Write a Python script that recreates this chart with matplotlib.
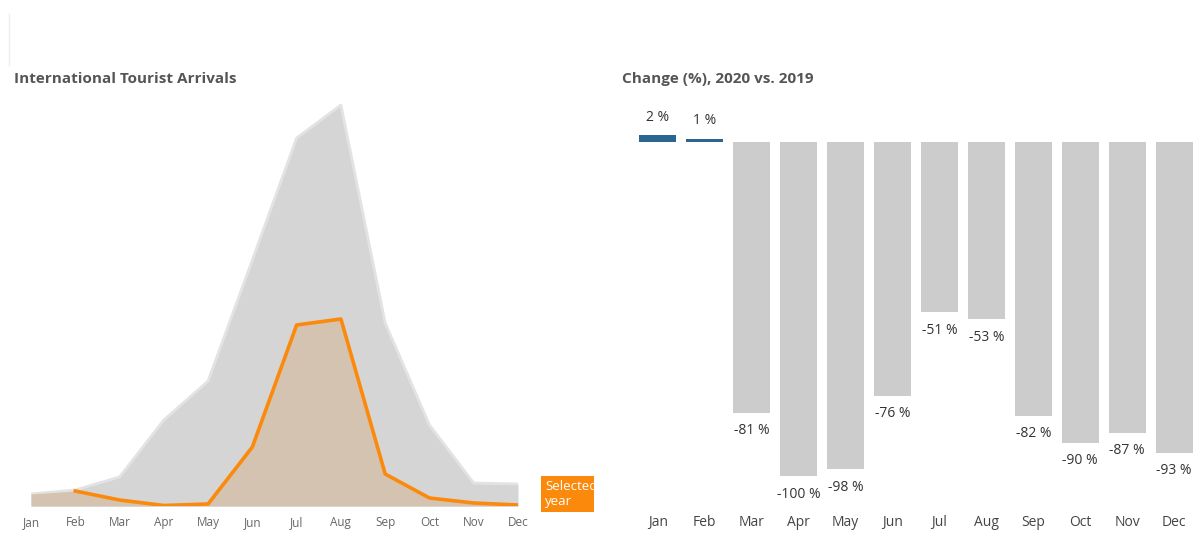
import numpy as np
import matplotlib.pyplot as plt
from matplotlib.patches import Rectangle

plt.rcParams['font.family'] = ['Open Sans', 'DejaVu Sans']

months = ["Jan", "Feb", "Mar", "Apr", "May", "Jun",
          "Jul", "Aug", "Sep", "Oct", "Nov", "Dec"]
arrivals_2019 = [12, 16, 29, 86, 125, 246, 368, 401, 183, 81, 23, 22]
arrivals_2020 = [12, 15, 6, 0.5, 2, 59, 181, 187, 32, 8, 3, 1]
change_pct = [2, 1, -81, -100, -98, -76, -51, -53, -82, -90, -87, -93]

W, H = 1197, 541
fig = plt.figure(figsize=(W / 100, H / 100), dpi=100)


def px_axes(x0, y0, x1, y1):
    # pixel box (top-left origin) -> figure fraction
    return fig.add_axes([x0 / W, 1 - y1 / H, (x1 - x0) / W, (y1 - y0) / H])


# left: area chart
ax1 = px_axes(31, 86, 518, 506)
x = np.arange(len(months))
ax1.fill_between(x, arrivals_2019, color="#d5d5d5", lw=0, zorder=1)
ax1.plot(x, arrivals_2019, color="#e3e3e3", lw=2, zorder=2)
ax1.fill_between(x, arrivals_2020, color="#d4c3b0", lw=0, zorder=3)
ax1.plot(x[1:], arrivals_2020[1:], color="#fb8a0c", lw=2.6, zorder=4,
         solid_joinstyle="round")
ax1.set_xlim(0, 11)
ax1.set_ylim(0, 420)
ax1.set_xticks(x)
ax1.set_xticklabels(months, fontsize=8.5, color="#666666")
ax1.tick_params(axis="x", length=0, pad=7)
ax1.set_yticks([])
for s in ax1.spines.values():
    s.set_visible(False)

# right: bar chart
ax2 = px_axes(634.5, 108.6, 1197.5, 509.4)
colors = ["#2b6592" if v > 0 else "#cccccc" for v in change_pct]
ax2.bar(x, change_pct, width=0.79, color=colors)
for i, v in enumerate(change_pct):
    off = 18 if v > 0 else -18
    ax2.annotate(f"{v} %", (i, v), xytext=(0, off), textcoords="offset pixels",
                 ha="center", va="center", fontsize=10, color="#333333")
ax2.set_xlim(-0.5, 11.5)
ax2.set_ylim(-110, 10)
ax2.set_xticks(x)
ax2.set_xticklabels(months, fontsize=10, color="#444444")
ax2.tick_params(axis="x", length=0, pad=4)
ax2.set_yticks([])
for s in ax2.spines.values():
    s.set_visible(False)

# titles
fig.text(14 / W, 1 - 79 / H, "International Tourist Arrivals", fontsize=11,
         fontweight="bold", color="#555555", va="center")
fig.text(622 / W, 1 - 79 / H, "Change (%), 2020 vs. 2019", fontsize=11,
         fontweight="bold", color="#555555", va="center")

# "Selected year" tag
rect = Rectangle((541 / W, 1 - 512 / H), 53 / W, 36 / H,
                 transform=fig.transFigure, color="#fb8a0c", lw=0)
fig.patches.append(rect)
t = fig.text(545 / W, 1 - 494 / H, "Selected\nyear", fontsize=9.5,
             color="white", va="center", ha="left", linespacing=1.25)
t.set_clip_path(rect)

# faint divider at top left
fig.add_artist(plt.Line2D([9 / W, 9 / W], [1 - 65 / H, 1 - 14 / H],
                          transform=fig.transFigure, color="#eeeeee", lw=1))

fig.savefig("out.png", dpi=100)
